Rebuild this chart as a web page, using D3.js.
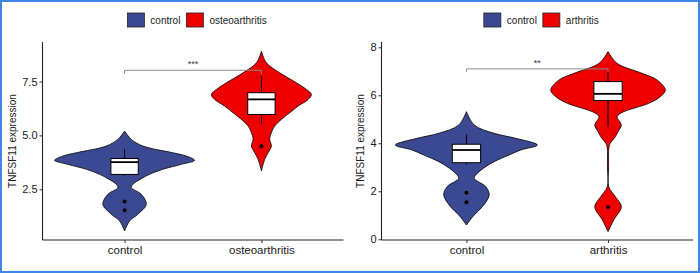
<!DOCTYPE html>
<html>
<head>
<meta charset="utf-8">
<script src="https://cdn.jsdelivr.net/npm/d3@7"></script>
<style>
  body { margin: 0; background: #fff; }
  svg { display: block; font-family: "Liberation Sans", Arial, sans-serif; }
</style>
</head>
<body>
<script>
const width = 700;
const height = 273;

// groups and colours
const groupsA = ["control", "osteoarthritis"];
const groupsB = ["control", "arthritis"];
const fills = ["#3B4992", "#EE0000"];

// y ticks
const yTicksA = [2.5, 5.0, 7.5];
const yTicksB = [0, 2, 4, 6, 8];
const yDomainA = [0.15, 9.33];
const yDomainB = [-0.03, 8.22];

// violin outlines: [expression value, relative density]
const violinControlA = [[5.20, 0], [4.815, 0.098], [4.506, 0.268], [4.198, 0.702], [4.043, 0.902],
  [3.843, 1.023], [3.657, 0.829], [3.426, 0.556], [3.194, 0.365], [2.994, 0.244], [2.731, 0.121],
  [2.577, 0.098], [2.269, 0.244], [1.806, 0.317], [1.343, 0.194], [1.034, 0.073], [0.571, 0]];
const violinOsteo = [[8.904, 0], [8.364, 0.073], [7.901, 0.268], [7.438, 0.512], [7.130, 0.658],
  [6.898, 0.731], [6.667, 0.683], [6.358, 0.537], [6.049, 0.414], [5.741, 0.292], [5.432, 0.194],
  [5.124, 0.146], [4.815, 0.121], [4.506, 0.146], [4.198, 0.098], [3.889, 0.048], [3.349, 0]];
const violinControlB = [[5.318, 0], [4.763, 0.109], [4.415, 0.391], [4.207, 0.696], [3.929, 1.003],
  [3.721, 0.767], [3.513, 0.603], [3.235, 0.391], [3.026, 0.273], [2.749, 0.155], [2.540, 0.109],
  [2.193, 0.273], [1.846, 0.321], [1.360, 0.226], [1.013, 0.109], [0.596, 0]];
const violinArthritis = [[7.818, 0], [7.332, 0.127], [6.915, 0.48], [6.638, 0.692], [6.221, 0.809],
  [5.943, 0.739], [5.665, 0.575], [5.457, 0.363], [5.318, 0.222], [5.110, 0.127], [4.763, 0.188],
  [4.485, 0.141], [4.276, 0.103], [3.999, 0.032], [3.860, 0.014], [3.0, 0.008], [2.193, 0.01],
  [1.776, 0.103], [1.360, 0.188], [0.804, 0.08], [0.318, 0]];

// box stats: lower whisker, q1, median, q3, upper whisker
const boxControlA = [3.13, 3.19, 3.76, 3.93, 4.35];
const boxOsteo = [5.51, 5.97, 6.67, 6.98, 7.75];
const boxControlB = [3.12, 3.19, 3.72, 3.96, 4.37];
const boxArthritis = [4.67, 5.78, 6.06, 6.57, 6.98];
const outliersControlA = [1.93, 1.53];
const outliersOsteo = [4.5];
const outliersControlB = [1.94, 1.54];
const outliersArthritis = [1.33];

// significance brackets: [bar value, tip value, label]
const bracketA = [8.02, 7.86, "***"];
const bracketB = [7.10, 6.98, "**"];

const svg = d3.select("body").append("svg")
    .attr("width", width)
    .attr("height", height);

svg.append("rect")
    .attr("width", width).attr("height", height)
    .attr("fill", "#fff");

function drawPanel(p) {
    const g = svg.append("g");
    const x = d3.scalePoint().domain(p.groups).range([p.left, p.right]).padding(0.6);
    const y = d3.scaleLinear().domain(p.yDomain).range([p.bottom, p.top]);
    const half = d3.scaleLinear().domain([0, 1]).range([0, x.step() / 2]);
    const boxHalf = x.step() * 0.1;

    // violins
    p.violins.forEach((v, i) => {
        const cx = x(p.groups[i]);
        const area = d3.area()
            .y(d => y(d[0]))
            .x0(d => cx - half(d[1]))
            .x1(d => cx + half(d[1]))
            .curve(d3.curveCatmullRom.alpha(0.5));
        g.append("path")
            .attr("d", area(v))
            .attr("fill", fills[i])
            .attr("stroke", "#000")
            .attr("stroke-width", 0.8);
    });

    // bracket
    const [bv, tv, lab] = p.bracket;
    const x1 = x(p.groups[0]), x2 = x(p.groups[1]);
    g.append("path")
        .attr("d", `M${x1},${y(tv)}V${y(bv)}H${x2}V${y(tv)}`)
        .attr("fill", "none")
        .attr("stroke", "#8a8a8a")
        .attr("stroke-width", 1);
    g.append("text")
        .attr("x", (x1 + x2) / 2)
        .attr("y", y(bv) - 3)
        .attr("text-anchor", "middle")
        .attr("font-size", 9)
        .attr("fill", "#333")
        .text(lab);

    // boxes
    p.boxes.forEach((b, i) => {
        const cx = x(p.groups[i]);
        g.append("line")
            .attr("x1", cx).attr("x2", cx)
            .attr("y1", y(b[4])).attr("y2", y(b[3]))
            .attr("stroke", "#000").attr("stroke-width", 1);
        g.append("line")
            .attr("x1", cx).attr("x2", cx)
            .attr("y1", y(b[1])).attr("y2", y(b[0]))
            .attr("stroke", "#000").attr("stroke-width", 1);
        g.append("rect")
            .attr("x", cx - boxHalf)
            .attr("y", y(b[3]))
            .attr("width", boxHalf * 2)
            .attr("height", y(b[1]) - y(b[3]))
            .attr("fill", "#fff")
            .attr("stroke", "#000")
            .attr("stroke-width", 1);
        g.append("line")
            .attr("x1", cx - boxHalf).attr("x2", cx + boxHalf)
            .attr("y1", y(b[2])).attr("y2", y(b[2]))
            .attr("stroke", "#000").attr("stroke-width", 1.8);
        g.selectAll(null)
            .data(p.outliers[i])
            .enter().append("circle")
            .attr("cx", cx)
            .attr("cy", d => y(d))
            .attr("r", 2)
            .attr("fill", "#000");
    });

    // axes
    const yAxis = g.append("g")
        .attr("transform", `translate(${p.left},0)`)
        .call(d3.axisLeft(y).tickValues(p.yTicks).tickFormat(p.fmt).tickSize(3).tickPadding(2));
    const xAxis = g.append("g")
        .attr("transform", `translate(0,${p.bottom})`)
        .call(d3.axisBottom(x).tickSize(3).tickPadding(3));
    [yAxis, xAxis].forEach(a => {
        a.select(".domain").attr("stroke", "#222").attr("stroke-width", 1.1);
        a.selectAll(".tick line").attr("stroke", "#333");
        a.selectAll("text").attr("fill", "#1a1a1a").attr("font-family", null);
    });
    yAxis.select(".domain").attr("d", `M-0,${p.bottom}V${p.top}`);
    xAxis.select(".domain").attr("d", `M${p.left},0H${p.right}`);
    yAxis.selectAll("text").attr("font-size", 11);
    xAxis.selectAll("text").attr("font-size", 11.5);

    g.append("text")
        .attr("transform", `translate(${p.titleX},${(p.top + p.bottom) / 2}) rotate(-90)`)
        .attr("text-anchor", "middle")
        .attr("dy", "0.35em")
        .attr("font-size", 10)
        .attr("fill", "#1a1a1a")
        .text("TNFSF11 expression");

    // legend
    const leg = g.append("g");
    let cur = 0;
    p.groups.forEach((name, i) => {
        leg.append("rect")
            .attr("x", cur).attr("y", 13)
            .attr("width", 17).attr("height", 14)
            .attr("fill", fills[i])
            .attr("stroke", "#222").attr("stroke-width", 0.8);
        const t = leg.append("text")
            .attr("x", cur + 23).attr("y", 23.5)
            .attr("font-size", 10)
            .attr("fill", "#1a1a1a")
            .text(name);
        cur += 23 + t.node().getComputedTextLength() + 6;
    });
    const total = cur - 6;
    leg.attr("transform", `translate(${(p.left + p.right) / 2 + 4 - total / 2},0)`);
}

drawPanel({
    groups: groupsA, left: 42.5, right: 343.5, top: 42, bottom: 240,
    yDomain: yDomainA, yTicks: yTicksA, fmt: d3.format(".1f"), titleX: 12,
    violins: [violinControlA, violinOsteo],
    boxes: [boxControlA, boxOsteo],
    outliers: [outliersControlA, outliersOsteo],
    bracket: bracketA
});

drawPanel({
    groups: groupsB, left: 381.5, right: 693, top: 42, bottom: 240,
    yDomain: yDomainB, yTicks: yTicksB, fmt: d3.format("d"), titleX: 360,
    violins: [violinControlB, violinArthritis],
    boxes: [boxControlB, boxArthritis],
    outliers: [outliersControlB, outliersArthritis],
    bracket: bracketB
});

// outer frame
svg.append("rect")
    .attr("x", 1).attr("y", 1)
    .attr("width", width - 2).attr("height", height - 2)
    .attr("fill", "none")
    .attr("stroke", "#3f86e6")
    .attr("stroke-width", 2);
</script>
</body>
</html>
